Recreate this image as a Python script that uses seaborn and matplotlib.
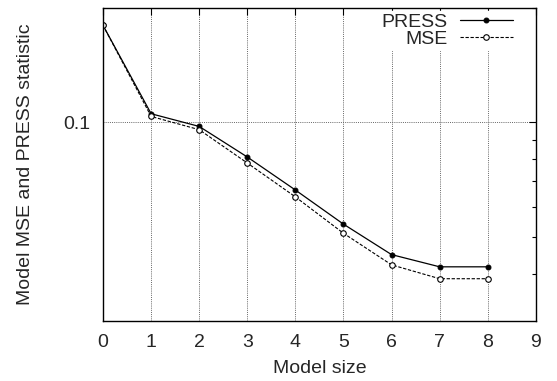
import matplotlib
matplotlib.use("Agg")
import matplotlib.pyplot as plt
import matplotlib.ticker as mticker
import seaborn as sns
import pandas as pd

# values
model_size = [0, 1, 2, 3, 4, 5, 6, 7, 8]
press = [0.180, 0.1054, 0.0976, 0.0811, 0.0664, 0.0540, 0.0449, 0.0417, 0.0417]
mse = [0.180, 0.1037, 0.0957, 0.0782, 0.0637, 0.0511, 0.0422, 0.0388, 0.0388]

df = pd.DataFrame({"size": model_size, "PRESS": press, "MSE": mse})

sns.set_style("white")
plt.rcParams["font.family"] = ["Liberation Sans", "DejaVu Sans"]
plt.rcParams["font.size"] = 14

fig = plt.figure(figsize=(5.57, 3.81), dpi=100)
ax = fig.add_axes([0.185, 0.157, 0.777, 0.822])

sns.lineplot(data=df, x="size", y="PRESS", ax=ax, color="black", lw=0.9,
             marker="o", markersize=3.5, markerfacecolor="black",
             markeredgecolor="black", label="PRESS")
sns.lineplot(data=df, x="size", y="MSE", ax=ax, color="black", lw=0.8,
             linestyle=(0, (3, 1.5)), marker="o", markersize=4,
             markerfacecolor="white", markeredgecolor="black",
             markeredgewidth=0.8, label="MSE")

ax.set_yscale("log")
ax.set_xlim(0, 9)
ax.set_ylim(0.03, 0.2)
ax.set_xticks(range(10))
ax.yaxis.set_major_locator(mticker.FixedLocator([0.1]))
ax.yaxis.set_major_formatter(mticker.FixedFormatter(["0.1"]))
ax.yaxis.set_minor_locator(mticker.FixedLocator([0.04, 0.05, 0.06, 0.07, 0.08, 0.09, 0.2]))
ax.yaxis.set_minor_formatter(mticker.NullFormatter())

ax.tick_params(which="both", direction="in", top=True, right=True,
               color="black", labelsize=14)
ax.tick_params(which="major", length=5, width=0.8, pad=9)
ax.tick_params(which="minor", length=3, width=0.8)

for x in range(1, 9):
    ax.axvline(x, color="#666666", lw=0.7, ls=(0, (1, 1.2)), zorder=0)
ax.axhline(0.1, color="#666666", lw=0.7, ls=(0, (1, 1.2)), zorder=0)

for s in ax.spines.values():
    s.set_color("black")
    s.set_linewidth(1.0)

ax.set_xlabel("Model size", fontsize=14, labelpad=7)
ax.set_ylabel("Model MSE and PRESS statistic", fontsize=14, labelpad=21)

leg = ax.legend(loc="upper right", bbox_to_anchor=(0.951, 0.99),
                markerfirst=False, frameon=True, fontsize=14,
                handlelength=2.7, borderaxespad=0.0, handletextpad=0.67,
                labelspacing=0.0, borderpad=0.1)
leg.get_frame().set_edgecolor("white")
leg.get_frame().set_facecolor("white")
leg.get_frame().set_alpha(1)
leg.set_zorder(1.5)
for t in leg.get_texts():
    t.set_ha("right")

fig.savefig("out.png", dpi=100)
